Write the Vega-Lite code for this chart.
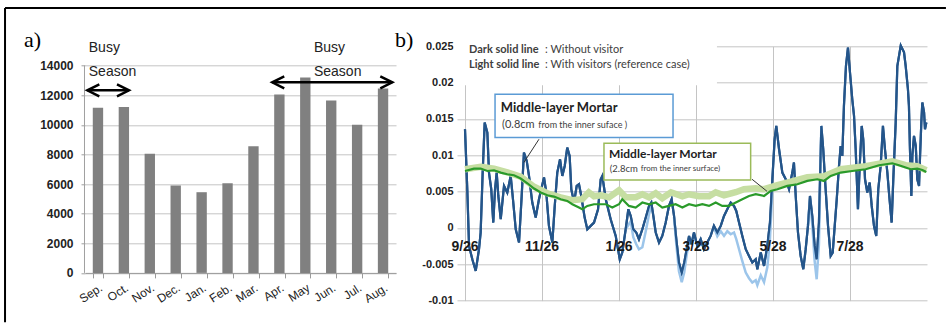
{
  "$schema": "https://vega.github.io/schema/vega-lite/v6.json",
  "background": "white",
  "padding": {"left": 4, "top": 6.3, "right": 0, "bottom": 0},
  "autosize": {"type": "pad"},
  "bounds": "flush",
  "spacing": 69,
  "config": {
    "view": {"stroke": null},
    "locale": {"number": {"decimal": ".", "thousands": ",", "grouping": [3], "currency": ["$", ""], "minus": "-"}}
  },
  "datasets": {
    "one": [{}],
    "visitors": [
      {"month": "Sep.", "visitors": 11150},
      {"month": "Oct.", "visitors": 11200},
      {"month": "Nov.", "visitors": 8050},
      {"month": "Dec.", "visitors": 5900},
      {"month": "Jan.", "visitors": 5450},
      {"month": "Feb.", "visitors": 6050},
      {"month": "Mar.", "visitors": 8550},
      {"month": "Apr.", "visitors": 12050},
      {"month": "May", "visitors": 13200},
      {"month": "Jun.", "visitors": 11650},
      {"month": "Jul.", "visitors": 10000},
      {"month": "Aug.", "visitors": 12450}
    ],
    "dark_blue": [
      {"day": 0, "value": 0.01358}, {"day": 1.8, "value": 0.00533}, {"day": 3.2, "value": -0.00248}, {"day": 5.8, "value": -0.00431},
      {"day": 8.5, "value": -0.00592}, {"day": 11.1, "value": -0.00293}, {"day": 12.4, "value": -0.00063}, {"day": 14.0, "value": 0.00762},
      {"day": 15.6, "value": 0.0145}, {"day": 17.7, "value": 0.01313}, {"day": 19.0, "value": 0.00762}, {"day": 20.8, "value": 0.00533},
      {"day": 22.4, "value": 0.00074}, {"day": 23.8, "value": 0.00533}, {"day": 25.1, "value": 0.00762}, {"day": 26.4, "value": 0.0044},
      {"day": 28.3, "value": 0.0012}, {"day": 30.9, "value": 0.00578}, {"day": 33.5, "value": 0.00487}, {"day": 36.2, "value": 0.00716},
      {"day": 38.0, "value": 0.00395}, {"day": 40.2, "value": -0.00018}, {"day": 42.8, "value": -0.00201}, {"day": 44.9, "value": 0.0044},
      {"day": 46.7, "value": 0.01038}, {"day": 48.9, "value": 0.00922}, {"day": 50.7, "value": 0.00716}, {"day": 53.3, "value": 0.0035},
      {"day": 56.0, "value": 0.00143}, {"day": 58.6, "value": 0.00395}, {"day": 60.4, "value": 0.00533}, {"day": 62.6, "value": 0.00694},
      {"day": 64.4, "value": 0.00487}, {"day": 66.5, "value": 0.00028}, {"day": 69.2, "value": -0.00201}, {"day": 71.1, "value": 0.00303},
      {"day": 73.1, "value": 0.00762}, {"day": 75.3, "value": 0.00945}, {"day": 77.1, "value": 0.00716}, {"day": 79.0, "value": 0.00853},
      {"day": 81.0, "value": 0.01106}, {"day": 82.9, "value": 0.00991}, {"day": 84.2, "value": 0.00533}, {"day": 86.4, "value": 0.0035},
      {"day": 88.5, "value": 0.00578}, {"day": 90.3, "value": 0.00601}, {"day": 92.1, "value": 0.0044}, {"day": 94.8, "value": 0.00143},
      {"day": 96.9, "value": -0.00018}, {"day": 99.6, "value": 0.00028}, {"day": 102.2, "value": 0.00074}, {"day": 105.4, "value": 0.00257},
      {"day": 107.5, "value": 0.0067}, {"day": 108.8, "value": 0.00716}, {"day": 111.5, "value": 0.00395}, {"day": 115.4, "value": 0.0012},
      {"day": 119.4, "value": -0.0011}, {"day": 122.6, "value": -0.00431}, {"day": 124.6, "value": -0.00339}, {"day": 127.3, "value": -0.00018},
      {"day": 129.4, "value": 0.00257}, {"day": 131.3, "value": 0.00165}, {"day": 133.3, "value": -0.00018}, {"day": 135.7, "value": -0.00063},
      {"day": 137.8, "value": -0.00155}, {"day": 140.5, "value": -0.00018}, {"day": 143.2, "value": 0.00143}, {"day": 145.8, "value": 0.00303},
      {"day": 147.6, "value": 0.0035}, {"day": 149.2, "value": 0.00165}, {"day": 151.1, "value": -0.00063}, {"day": 153.7, "value": -0.00201},
      {"day": 156.3, "value": -0.0011}, {"day": 159.0, "value": 0.00074}, {"day": 161.6, "value": 0.00303}, {"day": 163.7, "value": 0.00395},
      {"day": 165.6, "value": 0.00165}, {"day": 167.4, "value": -0.00155}, {"day": 169.5, "value": -0.00476}, {"day": 171.7, "value": -0.00614},
      {"day": 173.7, "value": -0.00476}, {"day": 175.6, "value": -0.00293}, {"day": 177.5, "value": -0.0011}, {"day": 179.3, "value": -0.00224},
      {"day": 181.4, "value": -0.00063}, {"day": 184.0, "value": -0.00248}, {"day": 186.7, "value": -0.00155}, {"day": 189.3, "value": -0.00293},
      {"day": 191.9, "value": -0.00201}, {"day": 194.6, "value": -0.0011}, {"day": 197.2, "value": 0.00028}, {"day": 199.9, "value": -0.00063},
      {"day": 202.6, "value": 0.00028}, {"day": 205.2, "value": 0.00165}, {"day": 207.8, "value": 0.00257}, {"day": 210.5, "value": 0.0035},
      {"day": 213.1, "value": 0.00303}, {"day": 214.9, "value": 0.00234}, {"day": 217.1, "value": 0.00074}, {"day": 219.7, "value": -0.0011},
      {"day": 222.4, "value": -0.00293}, {"day": 225.0, "value": -0.00385}, {"day": 227.6, "value": -0.00476}, {"day": 230.3, "value": -0.00431},
      {"day": 231.6, "value": -0.00568}, {"day": 234.3, "value": -0.00339}, {"day": 236.9, "value": -0.00523}, {"day": 239.5, "value": -0.00248},
      {"day": 241.6, "value": 0.00074}, {"day": 243.5, "value": 0.0067}, {"day": 245.3, "value": 0.01221}, {"day": 246.6, "value": 0.01404},
      {"day": 248.8, "value": 0.01083}, {"day": 251.4, "value": 0.00762}, {"day": 254.1, "value": 0.0067}, {"day": 256.7, "value": 0.00533},
      {"day": 259.3, "value": 0.00762}, {"day": 260.6, "value": 0.009}, {"day": 262.0, "value": 0.0044}, {"day": 263.8, "value": -0.00063},
      {"day": 265.9, "value": -0.00385}, {"day": 268.0, "value": -0.00568}, {"day": 269.9, "value": -0.00293}, {"day": 271.7, "value": 0.00028},
      {"day": 273.3, "value": 0.0044}, {"day": 275.1, "value": 0.00165}, {"day": 277.0, "value": -0.00248}, {"day": 278.6, "value": -0.00431},
      {"day": 280.4, "value": 0.00074}, {"day": 282.3, "value": 0.01404}, {"day": 283.8, "value": 0.01083}, {"day": 285.7, "value": 0.00533},
      {"day": 287.6, "value": 0.00028}, {"day": 289.7, "value": -0.00385}, {"day": 291.3, "value": -0.00339}, {"day": 292.9, "value": 0.00028},
      {"day": 294.5, "value": 0.00395}, {"day": 296.3, "value": 0.00853}, {"day": 297.6, "value": 0.01128}, {"day": 298.9, "value": 0.00991},
      {"day": 300.2, "value": 0.01679}, {"day": 301.8, "value": 0.02229}, {"day": 303.4, "value": 0.02482}, {"day": 305.0, "value": 0.02138},
      {"day": 306.8, "value": 0.01771}, {"day": 308.2, "value": 0.01541}, {"day": 309.5, "value": 0.01083}, {"day": 311.3, "value": 0.00257},
      {"day": 312.7, "value": 0.00853}, {"day": 314.3, "value": 0.01404}, {"day": 315.5, "value": 0.01221}, {"day": 316.9, "value": 0.0067},
      {"day": 318.7, "value": 0.00487}, {"day": 320.6, "value": 0.00625}, {"day": 322.2, "value": 0.00303}, {"day": 324.0, "value": 0.00028},
      {"day": 325.8, "value": -0.0011}, {"day": 327.4, "value": 0.00533}, {"day": 329.3, "value": 0.00853}, {"day": 331.1, "value": 0.01404},
      {"day": 332.7, "value": 0.01083}, {"day": 334.6, "value": 0.00762}, {"day": 336.1, "value": 0.0044}, {"day": 338.0, "value": 0.00074},
      {"day": 339.3, "value": 0.0067}, {"day": 341.2, "value": 0.0145}, {"day": 342.5, "value": 0.02229}, {"day": 345.2, "value": 0.0251},
      {"day": 347.8, "value": 0.02418}, {"day": 349.1, "value": 0.02229}, {"day": 350.9, "value": 0.01909}, {"day": 351.7, "value": 0.01679},
      {"day": 352.5, "value": 0.01083}, {"day": 353.6, "value": 0.0044}, {"day": 354.4, "value": 0.00991}, {"day": 355.7, "value": 0.01266},
      {"day": 357.1, "value": 0.01128}, {"day": 358.3, "value": 0.0067}, {"day": 359.7, "value": 0.00578}, {"day": 360.5, "value": 0.00991},
      {"day": 361.5, "value": 0.0145}, {"day": 362.3, "value": 0.01726}, {"day": 363.7, "value": 0.01588}, {"day": 364.4, "value": 0.01358},
      {"day": 365.5, "value": 0.0145}
    ],
    "light_blue": [
      {"seg": "A", "day": 127.3, "value": -0.00018}, {"seg": "A", "day": 131.3, "value": 0.00092}, {"seg": "A", "day": 133.3, "value": -0.00128},
      {"seg": "A", "day": 135.7, "value": -0.00224}, {"seg": "A", "day": 137.8, "value": -0.00293}, {"seg": "A", "day": 140.5, "value": -0.00266},
      {"seg": "A", "day": 143.2, "value": -0.00045}, {"seg": "A", "day": 145.8, "value": 0.00189}, {"seg": "A", "day": 147.6, "value": 0.00312},
      {"seg": "B", "day": 165.6, "value": 0.00147}, {"seg": "B", "day": 167.4, "value": -0.00224}, {"seg": "B", "day": 169.5, "value": -0.00596},
      {"seg": "B", "day": 171.7, "value": -0.00747}, {"seg": "B", "day": 173.7, "value": -0.0061}, {"seg": "B", "day": 175.6, "value": -0.00376},
      {"seg": "B", "day": 177.5, "value": -0.00155},
      {"seg": "C", "day": 197.2, "value": 0.0001}, {"seg": "C", "day": 199.9, "value": -0.00114}, {"seg": "C", "day": 202.6, "value": -0.00045},
      {"seg": "C", "day": 205.2, "value": -0.0011}, {"seg": "C", "day": 207.8, "value": -0.00045}, {"seg": "C", "day": 210.5, "value": -0.00087},
      {"seg": "C", "day": 213.1, "value": -0.00063}, {"seg": "C", "day": 214.9, "value": -0.00155}, {"seg": "C", "day": 217.1, "value": -0.00293},
      {"seg": "C", "day": 219.7, "value": -0.00458}, {"seg": "C", "day": 222.4, "value": -0.00614}, {"seg": "C", "day": 225.0, "value": -0.00692},
      {"seg": "C", "day": 227.6, "value": -0.00751}, {"seg": "C", "day": 230.3, "value": -0.0072}, {"seg": "C", "day": 231.6, "value": -0.00788},
      {"seg": "C", "day": 234.3, "value": -0.00651}, {"seg": "C", "day": 236.9, "value": -0.00747}, {"seg": "C", "day": 239.5, "value": -0.00541},
      {"seg": "C", "day": 241.6, "value": -0.00155}, {"seg": "C", "day": 243.5, "value": 0.00533},
      {"seg": "D", "day": 271.7, "value": 0.00028}, {"seg": "D", "day": 273.3, "value": 0.00395}, {"seg": "D", "day": 275.1, "value": 0.00051},
      {"seg": "D", "day": 277.0, "value": -0.00458}, {"seg": "D", "day": 278.6, "value": -0.00706}, {"seg": "D", "day": 280.4, "value": -0.00224},
      {"seg": "D", "day": 282.3, "value": 0.01404}
    ],
    "dark_green": [
      {"day": 0, "value": 0.00784}, {"day": 7.1, "value": 0.00817}, {"day": 12.4, "value": 0.00817}, {"day": 17.7, "value": 0.00784},
      {"day": 23.0, "value": 0.00794}, {"day": 28.3, "value": 0.00762}, {"day": 33.5, "value": 0.00739}, {"day": 38.8, "value": 0.00725},
      {"day": 44.1, "value": 0.0068}, {"day": 49.4, "value": 0.00615}, {"day": 54.7, "value": 0.00542}, {"day": 60.0, "value": 0.00487},
      {"day": 65.2, "value": 0.0045}, {"day": 70.5, "value": 0.00432}, {"day": 75.8, "value": 0.00395}, {"day": 81.0, "value": 0.00372},
      {"day": 85.0, "value": 0.00326}, {"day": 90.3, "value": 0.00281}, {"day": 92.9, "value": 0.00257}, {"day": 96.9, "value": 0.00303},
      {"day": 102.2, "value": 0.00326}, {"day": 107.5, "value": 0.00326}, {"day": 111.5, "value": 0.00326}, {"day": 116.7, "value": 0.00281},
      {"day": 122.0, "value": 0.00326}, {"day": 124.6, "value": 0.00395}, {"day": 129.9, "value": 0.00303}, {"day": 135.2, "value": 0.00281},
      {"day": 140.5, "value": 0.0035}, {"day": 145.8, "value": 0.00326}, {"day": 151.1, "value": 0.0035}, {"day": 156.3, "value": 0.00281},
      {"day": 161.6, "value": 0.00303}, {"day": 166.9, "value": 0.00326}, {"day": 172.2, "value": 0.00281}, {"day": 177.5, "value": 0.00326},
      {"day": 182.8, "value": 0.00303}, {"day": 188.0, "value": 0.00326}, {"day": 193.3, "value": 0.00303}, {"day": 198.6, "value": 0.0035},
      {"day": 203.8, "value": 0.00303}, {"day": 209.1, "value": 0.00303}, {"day": 214.5, "value": 0.0035}, {"day": 219.7, "value": 0.00395},
      {"day": 225.0, "value": 0.0044}, {"day": 230.3, "value": 0.00464}, {"day": 236.9, "value": 0.0044}, {"day": 242.2, "value": 0.00509},
      {"day": 247.5, "value": 0.00533}, {"day": 255.4, "value": 0.00578}, {"day": 263.3, "value": 0.00601}, {"day": 271.2, "value": 0.00647},
      {"day": 279.1, "value": 0.0067}, {"day": 284.4, "value": 0.00647}, {"day": 289.7, "value": 0.00716}, {"day": 297.6, "value": 0.00762},
      {"day": 306.8, "value": 0.00784}, {"day": 317.4, "value": 0.00808}, {"day": 328.0, "value": 0.00863}, {"day": 338.5, "value": 0.0089},
      {"day": 343.8, "value": 0.00863}, {"day": 349.1, "value": 0.00831}, {"day": 353.1, "value": 0.00808}, {"day": 358.3, "value": 0.00817},
      {"day": 362.3, "value": 0.00798}, {"day": 365.5, "value": 0.00771}
    ],
    "light_green": [
      {"day": 0, "value": 0.00808}, {"day": 12.4, "value": 0.00842}, {"day": 23.0, "value": 0.00815}, {"day": 33.5, "value": 0.00766},
      {"day": 44.1, "value": 0.00705}, {"day": 54.7, "value": 0.00567}, {"day": 65.2, "value": 0.00477}, {"day": 75.8, "value": 0.00422},
      {"day": 85.0, "value": 0.00381}, {"day": 92.9, "value": 0.00395}, {"day": 98.1, "value": 0.00491}, {"day": 102.2, "value": 0.00436},
      {"day": 107.5, "value": 0.0045}, {"day": 114.1, "value": 0.00422}, {"day": 122.0, "value": 0.00519}, {"day": 127.3, "value": 0.00422},
      {"day": 135.2, "value": 0.00422}, {"day": 140.5, "value": 0.00464}, {"day": 145.8, "value": 0.00422}, {"day": 151.1, "value": 0.00477},
      {"day": 156.3, "value": 0.00409}, {"day": 163.2, "value": 0.00491}, {"day": 172.2, "value": 0.00436}, {"day": 177.5, "value": 0.00464},
      {"day": 185.4, "value": 0.00436}, {"day": 193.3, "value": 0.00436}, {"day": 198.6, "value": 0.00491}, {"day": 205.2, "value": 0.0045},
      {"day": 214.5, "value": 0.00491}, {"day": 221.0, "value": 0.00533}, {"day": 230.3, "value": 0.00546}, {"day": 236.9, "value": 0.00533},
      {"day": 247.5, "value": 0.00588}, {"day": 256.7, "value": 0.00629}, {"day": 271.2, "value": 0.00698}, {"day": 284.4, "value": 0.00711},
      {"day": 297.6, "value": 0.00808}, {"day": 317.4, "value": 0.00849}, {"day": 338.5, "value": 0.00918}, {"day": 349.1, "value": 0.00863},
      {"day": 358.3, "value": 0.00849}, {"day": 365.5, "value": 0.00794}
    ],
    "date_labels": [
      {"day": 0, "label": "9/26"}, {"day": 61, "label": "11/26"}, {"day": 122, "label": "1/26"},
      {"day": 183, "label": "3/28"}, {"day": 244, "label": "5/28"}, {"day": 305, "label": "7/28"}
    ]
  },
  "hconcat": [
    {
      "width": 311,
      "height": 226.6,
      "layer": [
        {
          "data": {"name": "visitors"},
          "mark": {"type": "bar", "color": "#808080"},
          "encoding": {
            "x": {
              "field": "month", "type": "nominal",
              "scale": {"domain": ["Sep.", "Oct.", "Nov.", "Dec.", "Jan.", "Feb.", "Mar.", "Apr.", "May", "Jun.", "Jul.", "Aug."], "paddingInner": 0.6, "paddingOuter": 0.3},
              "axis": {"title": null, "labelAngle": -33, "labelAlign": "right", "labelBaseline": "top", "labelPadding": 4, "labelOverlap": false, "labelFont": "Liberation Sans", "labelFontSize": 12, "labelColor": "#222222", "tickBand": "extent", "tickSize": 5, "tickColor": "#9a9a9a", "domainColor": "#9a9a9a", "grid": false}
            },
            "y": {
              "field": "visitors", "type": "quantitative",
              "scale": {"domain": [0, 15304], "nice": false},
              "axis": {"title": null, "values": [0, 2000, 4000, 6000, 8000, 10000, 12000, 14000], "tickCount": 8, "labelOverlap": false, "format": "d", "labelFont": "Liberation Sans", "labelFontWeight": "bold", "labelFontSize": 12, "labelColor": "#222222", "tickSize": 4, "tickColor": "#a0a0a0", "labelPadding": 8, "domain": false, "grid": true, "gridColor": "#c4c4c4"}
            }
          }
        },
        {
          "data": {"name": "one"},
          "mark": {"type": "rule", "color": "#a0a0a0", "strokeWidth": 1},
          "encoding": {"x": {"datum": "Sep.", "bandPosition": -0.8}, "y": {"datum": 0}, "y2": {"datum": 14000}}
        },
        {
          "data": {"values": [{"month": "Sep.", "v": 15216, "t": "Busy"}, {"month": "Sep.", "v": 13595, "t": "Season"}]},
          "mark": {"type": "text", "align": "left", "baseline": "middle", "dx": -4, "font": "Liberation Sans", "fontSize": 14, "color": "#222222"},
          "encoding": {"x": {"field": "month", "type": "nominal", "bandPosition": 0}, "y": {"field": "v", "type": "quantitative"}, "text": {"field": "t"}}
        },
        {
          "data": {"values": [{"month": "May", "v": 15216, "t": "Busy"}, {"month": "May", "v": 13595, "t": "Season"}]},
          "mark": {"type": "text", "align": "left", "baseline": "middle", "dx": 3.5, "font": "Liberation Sans", "fontSize": 14, "color": "#222222"},
          "encoding": {"x": {"field": "month", "type": "nominal", "bandPosition": 1}, "y": {"field": "v", "type": "quantitative"}, "text": {"field": "t"}}
        }
      ]
    },
    {
      "width": 462,
      "height": 254.3,
      "layer": [
        {
          "data": {"name": "dark_blue"},
          "mark": {"type": "line", "color": "#24558a", "strokeWidth": 2.2},
          "encoding": {
            "x": {"field": "day", "type": "quantitative", "scale": {"domain": [0, 366], "nice": false, "zero": false},
                  "axis": {"title": null, "values": [0, 61, 122, 183, 244, 305], "labels": false, "ticks": false, "domain": false, "grid": true, "gridColor": "#c4c4c4"}},
            "y": {"field": "value", "type": "quantitative", "scale": {"domain": [-0.01, 0.025], "nice": false, "zero": false},
                  "axis": {"title": null, "values": [-0.01, -0.005, 0, 0.005, 0.01, 0.015, 0.02, 0.025], "tickCount": 8, "labelOverlap": false, "format": ".3~f", "labelFont": "Liberation Sans", "labelFontWeight": "bold", "labelFontSize": 11, "labelColor": "#222222", "tickSize": 8, "tickColor": "#c4c4c4", "labelPadding": 4, "domain": false, "grid": true, "gridColor": "#c4c4c4"}}
          }
        },
        {
          "data": {"name": "one"},
          "mark": {"type": "rect", "fill": "white"},
          "encoding": {"x": {"datum": -9}, "x2": {"datum": 199.6}, "y": {"datum": 0.02545}, "y2": {"datum": 0.01964}}
        },
        {
          "data": {"name": "light_blue"},
          "mark": {"type": "line", "color": "#9cc5ea", "strokeWidth": 2.5},
          "encoding": {"x": {"field": "day", "type": "quantitative"}, "y": {"field": "value", "type": "quantitative"}, "detail": {"field": "seg"}}
        },
        {
          "data": {"name": "dark_blue"},
          "mark": {"type": "line", "color": "#24558a", "strokeWidth": 2.2},
          "encoding": {"x": {"field": "day", "type": "quantitative"}, "y": {"field": "value", "type": "quantitative"}}
        },
        {
          "data": {"name": "light_green"},
          "mark": {"type": "line", "color": "#c6dea2", "strokeWidth": 6.5},
          "encoding": {"x": {"field": "day", "type": "quantitative"}, "y": {"field": "value", "type": "quantitative"}}
        },
        {
          "data": {"name": "dark_green"},
          "mark": {"type": "line", "color": "#2a9a2a", "strokeWidth": 2.2},
          "encoding": {"x": {"field": "day", "type": "quantitative"}, "y": {"field": "value", "type": "quantitative"}}
        },
        {
          "data": {"name": "one"},
          "mark": {"type": "rect", "fill": "white", "stroke": "#5b9bd5", "strokeWidth": 1.5},
          "encoding": {"x": {"datum": 23.8}, "x2": {"datum": 164.8}, "y": {"datum": 0.0184}, "y2": {"datum": 0.01244}}
        },
        {
          "data": {"name": "one"},
          "mark": {"type": "rect", "fill": "white", "stroke": "#9bbb59", "strokeWidth": 1.5},
          "encoding": {"x": {"datum": 110.1}, "x2": {"datum": 226.3}, "y": {"datum": 0.01165}, "y2": {"datum": 0.0066}}
        },
        {
          "data": {"name": "one"},
          "mark": {"type": "rule", "color": "#333333", "strokeWidth": 1},
          "encoding": {"x": {"datum": 58.6}, "x2": {"datum": 46.7}, "y": {"datum": 0.01221}, "y2": {"datum": 0.00902}}
        },
        {
          "data": {"name": "one"},
          "mark": {"type": "rule", "color": "#333333", "strokeWidth": 1},
          "encoding": {"x": {"datum": 227.4}, "x2": {"datum": 239.2}, "y": {"datum": 0.0067}, "y2": {"datum": 0.00505}}
        },
        {
          "data": {"name": "one"},
          "mark": {"type": "text", "align": "left", "baseline": "middle", "font": "Lato", "fontWeight": "bold", "fontSize": 11, "color": "#404040"},
          "encoding": {"x": {"datum": 3.2}, "y": {"datum": 0.02449}, "text": {"value": "Dark solid line"}}
        },
        {
          "data": {"name": "one"},
          "mark": {"type": "text", "align": "left", "baseline": "middle", "font": "Lato", "fontSize": 11, "color": "#404040"},
          "encoding": {"x": {"datum": 63.4}, "y": {"datum": 0.02449}, "text": {"value": ": Without visitor"}}
        },
        {
          "data": {"name": "one"},
          "mark": {"type": "text", "align": "left", "baseline": "middle", "font": "Lato", "fontWeight": "bold", "fontSize": 11, "color": "#404040"},
          "encoding": {"x": {"datum": 3.2}, "y": {"datum": 0.02239}, "text": {"value": "Light solid line"}}
        },
        {
          "data": {"name": "one"},
          "mark": {"type": "text", "align": "left", "baseline": "middle", "font": "Lato", "fontSize": 11, "color": "#404040"},
          "encoding": {"x": {"datum": 63.4}, "y": {"datum": 0.02239}, "text": {"value": ": With visitors (reference case)"}}
        },
        {
          "data": {"name": "one"},
          "mark": {"type": "text", "align": "left", "baseline": "middle", "font": "Lato", "fontWeight": "bold", "fontSize": 13, "color": "#222222"},
          "encoding": {"x": {"datum": 28.3}, "y": {"datum": 0.01657}, "text": {"value": "Middle-layer Mortar"}}
        },
        {
          "data": {"name": "one"},
          "mark": {"type": "text", "align": "left", "baseline": "middle", "font": "Lato", "fontSize": 11, "color": "#404040"},
          "encoding": {"x": {"datum": 29.3}, "y": {"datum": 0.01411}, "text": {"value": "(0.8cm"}}
        },
        {
          "data": {"name": "one"},
          "mark": {"type": "text", "align": "left", "baseline": "middle", "font": "Lato", "fontSize": 9, "color": "#404040"},
          "encoding": {"x": {"datum": 58.1}, "y": {"datum": 0.01411}, "text": {"value": "from the inner suface )"}}
        },
        {
          "data": {"name": "one"},
          "mark": {"type": "text", "align": "left", "baseline": "middle", "font": "Lato", "fontWeight": "bold", "fontSize": 12, "color": "#222222"},
          "encoding": {"x": {"datum": 114.1}, "y": {"datum": 0.01014}, "text": {"value": "Middle-layer Mortar"}}
        },
        {
          "data": {"name": "one"},
          "mark": {"type": "text", "align": "left", "baseline": "middle", "font": "Lato", "fontSize": 9.5, "color": "#404040"},
          "encoding": {"x": {"datum": 114.6}, "y": {"datum": 0.00808}, "text": {"value": "(2.8cm"}}
        },
        {
          "data": {"name": "one"},
          "mark": {"type": "text", "align": "left", "baseline": "middle", "font": "Lato", "fontSize": 8, "color": "#404040"},
          "encoding": {"x": {"datum": 139.2}, "y": {"datum": 0.00808}, "text": {"value": "from the inner surface)"}}
        },
        {
          "data": {"name": "date_labels"},
          "mark": {"type": "text", "align": "center", "baseline": "middle", "font": "Liberation Sans", "fontWeight": "bold", "fontSize": 14, "color": "#1a1a1a"},
          "encoding": {"x": {"field": "day", "type": "quantitative"}, "y": {"datum": -0.00266}, "text": {"field": "label"}}
        },
        {
          "data": {"name": "one"},
          "mark": {"type": "rule", "color": "#000000", "strokeWidth": 2},
          "encoding": {"x": {"datum": -364.4}, "x2": {"datum": 381.0}, "y": {"datum": 0.03028}}
        },
        {
          "data": {"name": "one"},
          "mark": {"type": "rule", "color": "#000000", "strokeWidth": 2},
          "encoding": {"x": {"datum": -364.4}, "y": {"datum": 0.03028}, "y2": {"datum": -0.01298}}
        },
        {
          "data": {"name": "one"},
          "mark": {"type": "text", "align": "left", "baseline": "middle", "font": "Liberation Serif", "fontSize": 22, "color": "#000000"},
          "encoding": {"x": {"datum": -349.4}, "y": {"datum": 0.02583}, "text": {"value": "a)"}}
        },
        {
          "data": {"name": "one"},
          "mark": {"type": "text", "align": "left", "baseline": "middle", "font": "Liberation Serif", "fontSize": 22, "color": "#000000"},
          "encoding": {"x": {"datum": -55.5}, "y": {"datum": 0.02583}, "text": {"value": "b)"}}
        },
        {
          "data": {"name": "one"},
          "mark": {"type": "rule", "color": "#000000", "strokeWidth": 2.5},
          "encoding": {"x": {"datum": -299.2}, "x2": {"datum": -266.2}, "y": {"datum": 0.01894}}
        },
        {
          "data": {"name": "one"},
          "mark": {"type": "rule", "color": "#000000", "strokeWidth": 2.5},
          "encoding": {"x": {"datum": -152.7}, "x2": {"datum": -57.6}, "y": {"datum": 0.02004}}
        },
        {
          "data": {"name": "one"},
          "mark": {"type": "point", "shape": "M1,-0.5L0,0L1,0.5", "filled": false, "stroke": "#000000", "strokeWidth": 2.5, "size": 576, "opacity": 1},
          "encoding": {"x": {"datum": -299.2}, "y": {"datum": 0.01894}}
        },
        {
          "data": {"name": "one"},
          "mark": {"type": "point", "shape": "M-1,-0.5L0,0L-1,0.5", "filled": false, "stroke": "#000000", "strokeWidth": 2.5, "size": 576, "opacity": 1},
          "encoding": {"x": {"datum": -266.2}, "y": {"datum": 0.01894}}
        },
        {
          "data": {"name": "one"},
          "mark": {"type": "point", "shape": "M1,-0.5L0,0L1,0.5", "filled": false, "stroke": "#000000", "strokeWidth": 2.5, "size": 576, "opacity": 1},
          "encoding": {"x": {"datum": -152.7}, "y": {"datum": 0.02004}}
        },
        {
          "data": {"name": "one"},
          "mark": {"type": "point", "shape": "M-1,-0.5L0,0L-1,0.5", "filled": false, "stroke": "#000000", "strokeWidth": 2.5, "size": 576, "opacity": 1},
          "encoding": {"x": {"datum": -57.6}, "y": {"datum": 0.02004}}
        }
      ]
    }
  ]
}
